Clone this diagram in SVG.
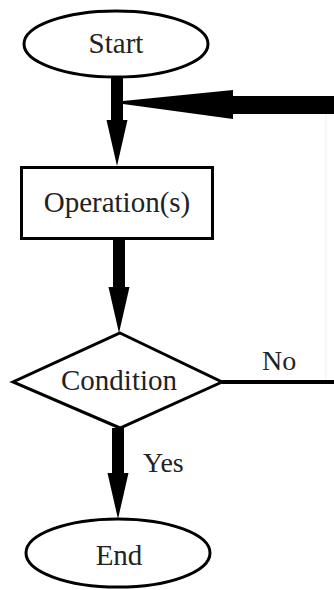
<svg xmlns="http://www.w3.org/2000/svg" width="334" height="590" viewBox="0 0 334 590" font-family="Liberation Serif, DejaVu Serif, serif">
  <style>
    .shape { fill: #ffffff; stroke: #000000; stroke-width: 3; }
    .label { font-size: 29px; fill: #222222; text-anchor: middle; }
    .edge-label { font-size: 28px; fill: #222222; }
    .shaft { stroke: #000000; stroke-width: 12; fill: none; }
  </style>
  <defs>
    <marker id="head" markerUnits="userSpaceOnUse" viewBox="0 -11 46 22" markerWidth="46" markerHeight="22" refX="0" refY="0" orient="auto">
      <path d="M0,-10.5 L46,0 L0,10.5 z" fill="#000000"/>
    </marker>
  </defs>

  <rect x="0" y="0" width="334" height="590" fill="#ffffff"/>

  <!-- connectors -->
  <g id="connectors">
    <!-- Start -> Operation(s) -->
    <line class="shaft" x1="117" y1="77" x2="117" y2="120" marker-end="url(#head)"/>
    <!-- Operation(s) -> Condition -->
    <line class="shaft" x1="119" y1="240" x2="119" y2="287" marker-end="url(#head)"/>
    <!-- Condition -> End (Yes) -->
    <line class="shaft" x1="118" y1="428" x2="118" y2="473" marker-end="url(#head)"/>
    <!-- Condition -> loop back (No) -->
    <line x1="222" y1="382" x2="334" y2="382" stroke="#000000" stroke-width="4"/>
    <line x1="326" y1="114" x2="326" y2="380" stroke="#f0f0f0" stroke-width="1"/>
    <!-- loop return into the Start -> Operation(s) shaft -->
    <rect x="232" y="96" width="102" height="18" fill="#000000"/>
    <path d="M233,90 L233,119 L123,104 L123,101 z" fill="#000000"/>
    <text class="edge-label" x="262" y="370" font-family="Liberation Serif, serif">No</text>
    <text class="edge-label" x="143" y="472" font-family="Liberation Serif, serif">Yes</text>
  </g>

  <g id="start">
    <ellipse class="shape" cx="116" cy="44" rx="92" ry="33"/>
    <text class="label" x="116" y="53" font-family="Liberation Serif, serif">Start</text>
  </g>

  <g id="operation">
    <rect class="shape" x="21.5" y="167.5" width="191" height="71" stroke-width="3.5"/>
    <text class="label" x="117" y="212" font-family="Liberation Serif, serif">Operation(s)</text>
  </g>

  <g id="condition">
    <polygon class="shape" points="120,333 222,382 120,428 13,382"/>
    <text class="label" x="119" y="390" font-family="Liberation Serif, serif">Condition</text>
  </g>

  <g id="end">
    <ellipse class="shape" cx="118" cy="553" rx="92" ry="34"/>
    <text class="label" x="119" y="565" font-family="Liberation Serif, serif">End</text>
  </g>
</svg>
